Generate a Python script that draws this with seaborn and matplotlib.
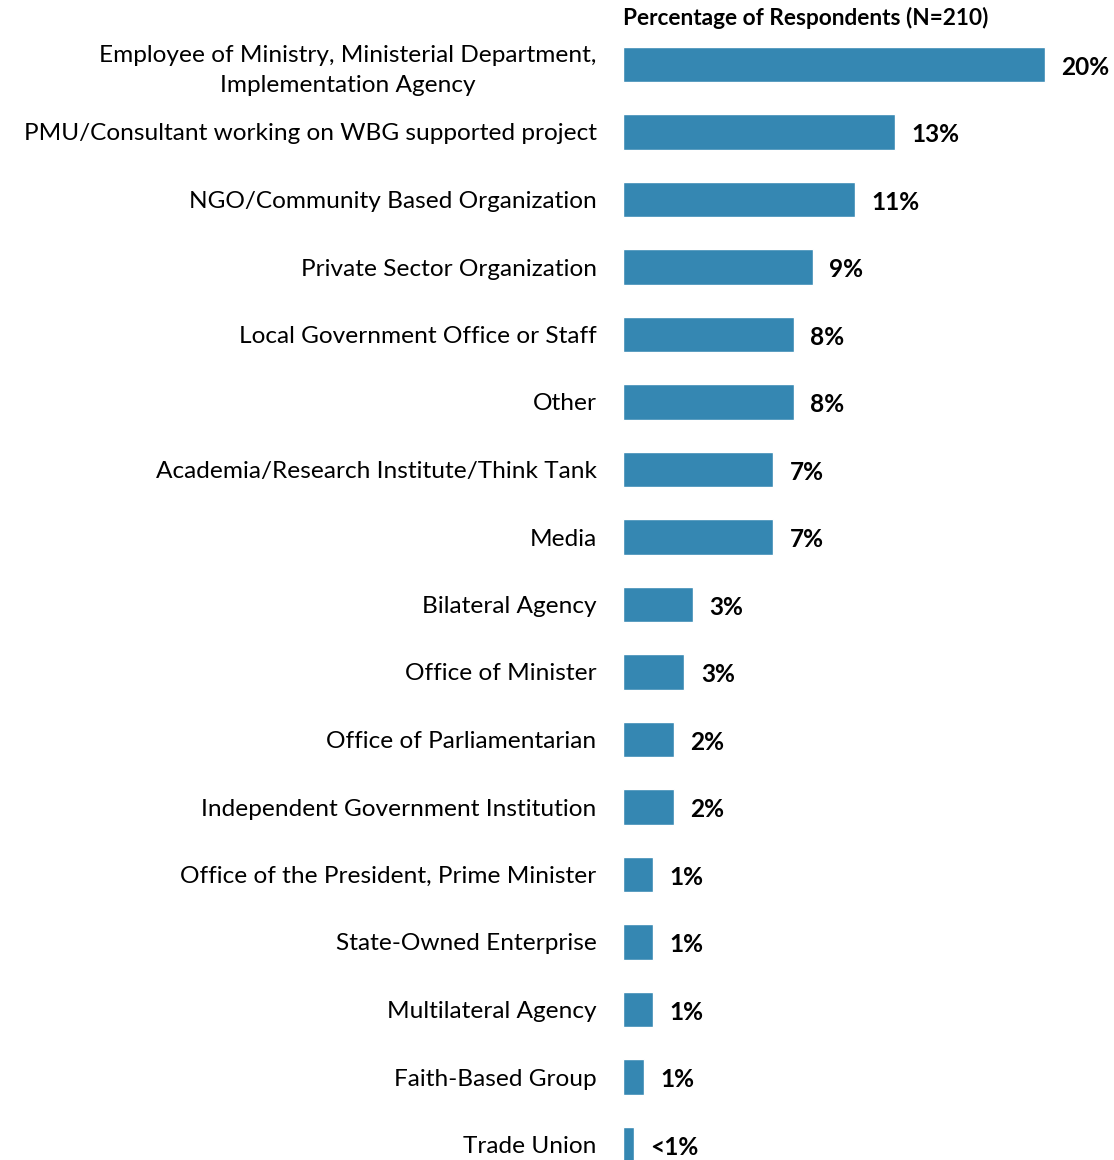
import matplotlib
matplotlib.use("Agg")
import matplotlib.pyplot as plt
import seaborn as sns
import pandas as pd

categories = [
    "Employee of Ministry, Ministerial Department,\nImplementation Agency",
    "PMU/Consultant working on WBG supported project",
    "NGO/Community Based Organization",
    "Private Sector Organization",
    "Local Government Office or Staff",
    "Other",
    "Academia/Research Institute/Think Tank",
    "Media",
    "Bilateral Agency",
    "Office of Minister",
    "Office of Parliamentarian",
    "Independent Government Institution",
    "Office of the President, Prime Minister",
    "State-Owned Enterprise",
    "Multilateral Agency",
    "Faith-Based Group",
    "Trade Union",
]
percent = [20.0, 12.9, 11.0, 9.0, 8.1, 8.1, 7.1, 7.1, 3.3, 2.9, 2.4, 2.4,
           1.4, 1.4, 1.4, 1.0, 0.5]
value_labels = ["20%", "13%", "11%", "9%", "8%", "8%", "7%", "7%", "3%", "3%",
                "2%", "2%", "1%", "1%", "1%", "1%", "<1%"]
title = "Percentage of Respondents (N=210)"

df = pd.DataFrame({"category": categories, "percent": percent})

sns.set_style("white")
plt.rcParams['font.family'] = ['Lato', 'DejaVu Sans']
plt.rcParams['text.color'] = 'black'
plt.rcParams['ytick.color'] = 'black'
plt.rcParams['ytick.labelcolor'] = 'black'

W, H = 1114, 1160
fig = plt.figure(figsize=(W / 100, H / 100), dpi=100)
# axes: x from 623px, 0..23 -> 485px; rows spaced 67.5px starting at 64.5px
step = 67.5
top = 64.5 - step / 2
bottom = 64.5 + step * 16.5
ax = fig.add_axes([623 / W, 1 - bottom / H, 485 / W, (bottom - top) / H])

sns.barplot(data=df, x="percent", y="category", color="#3587B2",
            width=0.52, saturation=1, ax=ax)
ax.set_xlim(0, 23)
ax.set_ylim(16.5, -0.5)
ax.set_xlabel("")
ax.set_ylabel("")
ax.set_xticks([])
sns.despine(ax=ax, left=True, bottom=True)
ax.tick_params(axis="y", length=0, pad=19, labelsize=17.6)
for lab in ax.get_yticklabels():
    lab.set_horizontalalignment("right")
    lab.set_multialignment("center")
    lab.set_linespacing(1.5)

for i, (v, t) in enumerate(zip(percent, value_labels)):
    ax.annotate(t, xy=(v, i), xytext=(12, -2), textcoords="offset points",
                ha="left", va="center", fontsize=17.6, fontweight="bold")

fig.text(623 / W, 1 - 18 / H, title, ha="left", va="center",
         fontsize=16.3, fontweight="bold")

fig.savefig("out.png", dpi=100)
